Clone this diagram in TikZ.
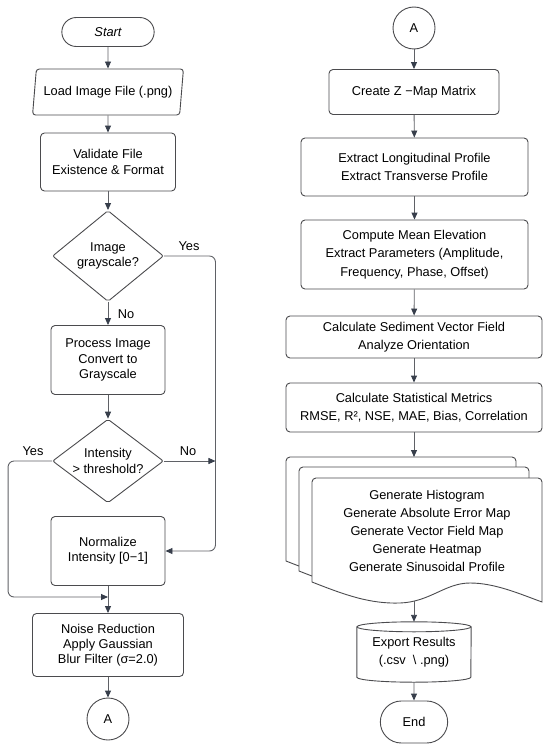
\documentclass[tikz,border=0pt]{standalone}
\usepackage{fontspec}
\setmainfont{Liberation Sans}
\usetikzlibrary{arrows.meta,positioning,calc,shapes.geometric,shapes.misc}
\definecolor{ink}{RGB}{75,75,78}
\definecolor{wire}{RGB}{95,97,102}
\definecolor{tipcol}{RGB}{55,62,75}
\newcommand{\flowfont}{\fontsize{12.8}{15.3}\selectfont}
\newcommand{\wideflowfont}{\fontsize{12.8}{18.2}\selectfont}

\begin{document}
\begin{tikzpicture}[x=1pt,y=-1pt,
  base/.style={draw=ink,line width=0.9pt,font=\flowfont,align=center,fill=white},
  procbox/.style={base,rectangle,rounded corners=4pt,minimum width=#1},
  rprocbox/.style={procbox=#1,font=\wideflowfont},
  termbox/.style={base,rounded rectangle,minimum width=#1},
  iobox/.style={base,trapezium,trapezium left angle=79,trapezium right angle=101,
                trapezium stretches=true,rounded corners=3pt,minimum width=151,minimum height=46},
  decbox/.style={base,diamond,aspect=1.2,inner sep=0pt,rounded corners=2pt,minimum width=111,minimum height=#1},
  conbox/.style={base,circle,minimum size=42,inner sep=0pt},
  flow/.style={draw=wire,line width=0.9pt,-{Triangle[length=7pt,width=6pt,color=tipcol]}},
  lbl/.style={font=\flowfont}]
  \useasboundingbox (0,0) rectangle (550,752);
  % left column
  \node[termbox=99,minimum height=29,font=\flowfont\itshape] (start) at (108,32) {Start};
  \node[iobox] (load) at (108,92) {Load Image File (.png)};
  \node[procbox=135,minimum height=58] (valid) at (108,162) {Validate File\\Existence \& Format};
  \node[decbox=91] (img) at (108,256) {Image\\grayscale?};
  \node[procbox=114,minimum height=69] (proc) at (108,360) {Process Image\\Convert to\\Grayscale};
  \node[decbox=82] (thr) at (108,461) {Intensity\\> threshold?};
  \node[procbox=114,minimum height=69] (norm) at (108,551) {Normalize\\Intensity [0−1]};
  \node[procbox=151,minimum height=63] (noise) at (108,645) {Noise Reduction\\Apply Gaussian\\Blur Filter (σ=2.0)};
  \node[conbox] (conA) at (108,719) {A};
  \coordinate (merge) at (108,597);
  \node[lbl] (yes1) at (189,246) {Yes};
  \node[lbl] (no1) at (126,314) {No};
  \node[lbl] (no2) at (188,451) {No};
  \node[lbl] (yes2) at (33,451) {Yes};
  \draw[flow] (start) -- (load);
  \draw[flow] (load) -- (valid);
  \draw[flow] (valid) -- (img);
  \draw[flow] (img) -- (proc);
  \draw[flow] (proc) -- (thr);
  \draw[flow,rounded corners=6pt] (img.east) -| ([xshift=50pt]norm.east) -- (norm.east);
  \draw[flow] (thr.east) -- ([xshift=50pt]norm.east |- thr.east);
  \draw[flow,rounded corners=6pt] (thr.west) -- ++(-44,0) |- (merge);
  \draw[flow] (norm) -- (noise);
  \draw[flow] (noise) -- (conA);
  % right column
  \node[conbox] (conB) at (414,28) {A};
  \node[rprocbox=170,minimum height=45] (zmap) at (414,92) {Create Z −Map Matrix};
  \node[rprocbox=227,minimum height=58] (prof) at (414.5,167) {Extract Longitudinal Profile\\Extract Transverse Profile};
  \node[rprocbox=227,minimum height=69] (param) at (414.5,254.5) {Compute Mean Elevation\\Extract Parameters (Amplitude,\\Frequency, Phase, Offset)};
  \node[rprocbox=256,minimum height=42] (vec) at (414,337) {Calculate Sediment Vector Field\\Analyze Orientation};
  \node[rprocbox=256,minimum height=49] (stats) at (414,407.5) {Calculate Statistical Metrics\\RMSE, R², NSE, MAE, Bias, Correlation};
  % multi-document stack
  \foreach \dx/\dy in {-26/-21,-13/-11,0/0}
    \draw[draw=ink,line width=0.9pt,fill=white,shift={(\dx,\dy)}]
      (542,602) [rounded corners=4pt] -- (542,478) -- (312,478) [sharp corners] -- (312,582)
      .. controls (345,595) and (370,604) .. (400,603)
      .. controls (430,602) and (445,583) .. (470,583)
      .. controls (495,583) and (520,594) .. cycle;
  \node[font=\wideflowfont,align=center] (docs) at (427,531) {Generate Histogram\\Generate Absolute Error Map\\Generate Vector Field Map\\Generate Heatmap\\Generate Sinusoidal Profile};
  \coordinate (docsin) at (414,457);
  \coordinate (docsout) at (414,601);
  % cylinder
  \node[font=\wideflowfont,align=center,minimum width=114,minimum height=60,inner sep=0pt] (exp) at (414,652) {Export Results\\(.csv\ \ \textbackslash\ .png)};
  \draw[draw=ink,line width=0.9pt] ($(exp.north west)+(0,5)$) -- ($(exp.south west)+(0,-5)$)
    arc[start angle=180,end angle=360,x radius=57pt,y radius=5pt] -- ($(exp.north east)+(0,5)$);
  \draw[draw=ink,line width=0.9pt] ($(exp.north)+(0,5)$) ellipse[x radius=57pt,y radius=5pt];
  \node[termbox=74,minimum height=42] (finish) at (414,722) {End};
  \draw[flow] (conB) -- (zmap);
  \draw[flow] (zmap) -- (prof);
  \draw[flow] (prof) -- (param);
  \draw[flow] (param) -- (vec);
  \draw[flow] (vec) -- (stats);
  \draw[flow] (stats) -- (docsin);
  \draw[flow] (docsout) -- (exp.north);
  \draw[flow] (exp.south) -- (finish);
\end{tikzpicture}
\end{document}
